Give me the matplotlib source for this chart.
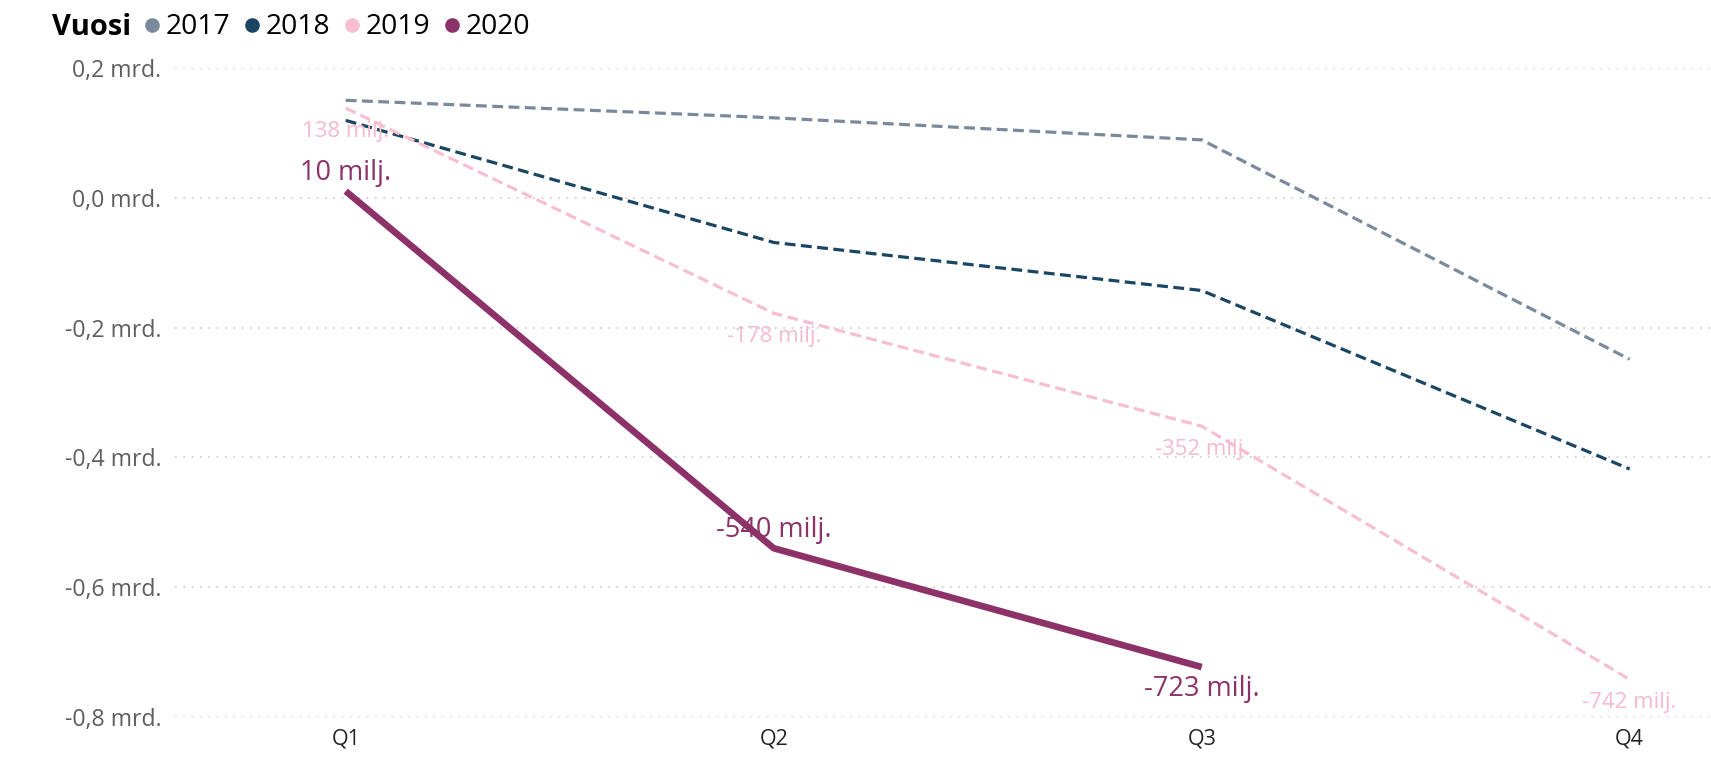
import matplotlib
matplotlib.use("Agg")
import matplotlib.pyplot as plt
from matplotlib.lines import Line2D

quarters = ["Q1", "Q2", "Q3", "Q4"]
years = ["2017", "2018", "2019", "2020"]
v2017 = [0.150, 0.123, 0.089, -0.249]
v2018 = [0.119, -0.069, -0.143, -0.418]
v2019 = [0.138, -0.178, -0.352, -0.742]
v2020 = [0.010, -0.540, -0.723]
labels2019 = ["138 milj.", "-178 milj.", "-352 milj.", "-742 milj."]
labels2020 = ["10 milj.", "-540 milj.", "-723 milj."]
yticks = [0.2, 0.0, -0.2, -0.4, -0.6, -0.8]
yticklabels = ["0,2 mrd.", "0,0 mrd.", "-0,2 mrd.", "-0,4 mrd.", "-0,6 mrd.", "-0,8 mrd."]

colors = {"2017": "#7A8A9C", "2018": "#1A4563", "2019": "#F7BFD0", "2020": "#8C3269"}

plt.rcParams['font.family'] = ['Open Sans', 'DejaVu Sans']

fig = plt.figure(figsize=(17.11, 7.62), dpi=100)
ax = fig.add_axes([0.102, 0.059, 0.898, 0.852])

dash = (0, (3.4, 1.7))
x = list(range(len(quarters)))
ax.plot(x, v2017, color=colors["2017"], lw=2.3, ls=dash)
ax.plot(x, v2018, color=colors["2018"], lw=2.3, ls=dash)
ax.plot(x, v2019, color=colors["2019"], lw=2.3, ls=dash)
ax.plot(x[:len(v2020)], v2020, color=colors["2020"], lw=4.8, solid_capstyle="butt")

for xi, v, t in zip(x, v2019, labels2019):
    ax.annotate(t, (xi, v), xytext=(0, -17), textcoords="offset points",
                ha="center", va="center", fontsize=16, color="#F5BACD")
offs2020 = [13, 13, -16]
for xi, v, t, o in zip(x, v2020, labels2020, offs2020):
    ax.annotate(t, (xi, v), xytext=(0, o), textcoords="offset points",
                ha="center", va="center", fontsize=19.5, color=colors["2020"])

ax.set_xlim(-0.4, 3.19)
ax.set_ylim(-0.8, 0.2)
ax.set_xticks(x)
ax.set_xticklabels(quarters, fontsize=15.5, color="#252423")
ax.set_yticks(yticks)
ax.set_yticklabels(yticklabels, fontsize=16.6, color="#605E5C")
ax.tick_params(length=0, pad=9.5)
ax.tick_params(axis="x", pad=8)
ax.grid(axis="y", color="#C8C8C8", ls=(0, (1, 4)), lw=1.2)
ax.set_axisbelow(True)
for s in ax.spines.values():
    s.set_visible(False)
for line in ax.lines:
    line.set_clip_on(False)

fig.text(0.0304, 0.964, "Vuosi", fontsize=21, fontweight="bold", va="center", ha="left", color="#000000")
handles = [Line2D([], [], ls="none", marker="o", markersize=9.5, color=colors[y]) for y in years]
fig.legend(handles, years, loc="center left", bbox_to_anchor=(0.0845, 0.964), ncol=4,
           frameon=False, fontsize=20.3, handlelength=0.55, handletextpad=0.2,
           columnspacing=0.5, borderaxespad=0, borderpad=0)

fig.savefig("out.png", dpi=100)
